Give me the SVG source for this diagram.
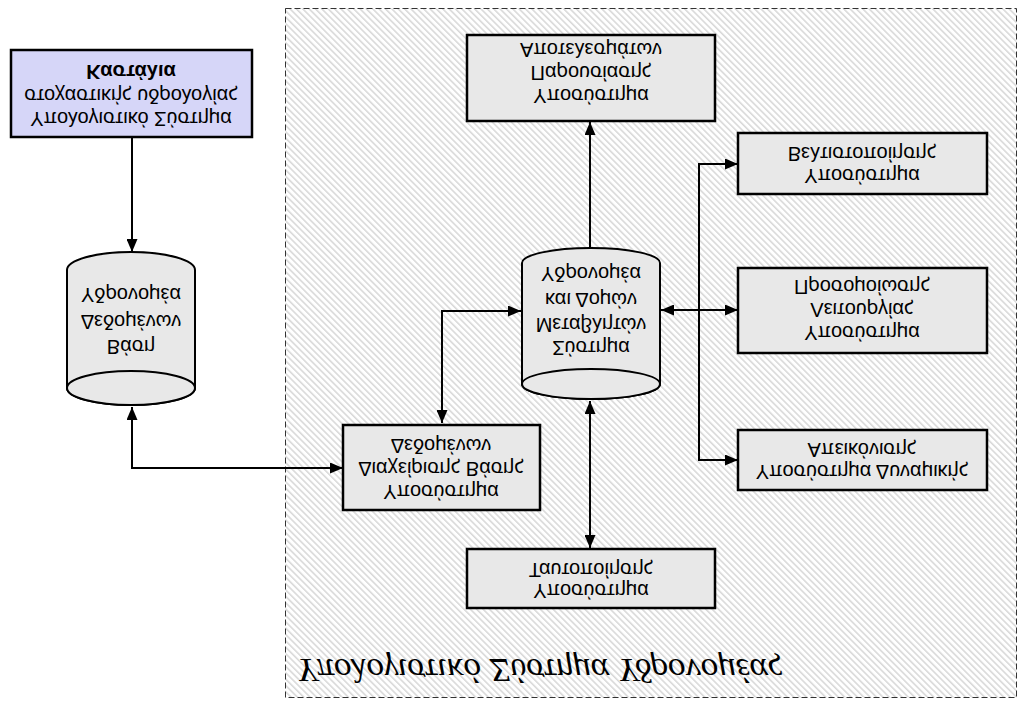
<svg xmlns="http://www.w3.org/2000/svg" width="1023" height="709" viewBox="0 0 1023 709">
<style>
.t{font-family:"Liberation Sans",Arial,sans-serif;font-size:20px;fill:#000;text-anchor:middle;dominant-baseline:central}
.b{font-weight:bold}
.box{fill:#e8e8e8;stroke:#000;stroke-width:2.5}
.cyl{fill:#e8e8e8;stroke:#000;stroke-width:2}
.c{fill:none;stroke:#000;stroke-width:2}
.lbl{font-family:"Liberation Serif","Times New Roman",serif;font-style:italic;font-size:33px;fill:#000;dominant-baseline:central}
</style>
<defs>
<pattern id="hatch" patternUnits="userSpaceOnUse" width="4.5" height="4.5" patternTransform="rotate(-45)">
<rect width="4.5" height="4.5" fill="#ffffff"/>
<line x1="0.8" y1="0" x2="0.8" y2="4.5" stroke="#d4d4d4" stroke-width="1.4"/>
</pattern>
<marker id="ah" markerUnits="userSpaceOnUse" markerWidth="13" markerHeight="11" refX="13" refY="5.5" orient="auto-start-reverse">
<path d="M0,0 L13,5.5 L0,11 Z" fill="#000"/>
</marker>
</defs>
<rect width="1023" height="709" fill="#ffffff"/>
<g id="region">
<rect x="285.5" y="8.5" width="731" height="689" fill="url(#hatch)" stroke="#333" stroke-width="1" stroke-dasharray="6,3"/>
<text class="lbl" textLength="485" lengthAdjust="spacingAndGlyphs" transform="translate(297,670) scale(1,-1)">Υπολογιστικό Σύστημα Υδρονομέας</text>
</g>
<g id="connectors">
<path class="c" d="M132,138 V252" marker-end="url(#ah)"/>
<path class="c" d="M132,407 V468 H343" marker-start="url(#ah)" marker-end="url(#ah)"/>
<path class="c" d="M442,423 V311 H521" marker-start="url(#ah)" marker-end="url(#ah)"/>
<path class="c" d="M590,248 V122" marker-end="url(#ah)"/>
<path class="c" d="M590,401 V548" marker-start="url(#ah)" marker-end="url(#ah)"/>
<path class="c" d="M661,310 H738" marker-start="url(#ah)" marker-end="url(#ah)"/>
<path class="c" d="M738,164 H699 V460 H738" marker-start="url(#ah)" marker-end="url(#ah)"/>
</g>
<g id="kastalia">
<rect x="11" y="50" width="241" height="87" fill="#d6d6f8" stroke="#000" stroke-width="2.5"/>
<text class="t b" transform="translate(131,72) scale(1,-1)">Καστάλια</text>
<text class="t" transform="translate(131,96) scale(1,-1)">στοχαστικής υδρολογίας</text>
<text class="t" transform="translate(131,119) scale(1,-1)">Υπολογιστικό Σύστημα</text>
</g>
<g id="db">
<path class="cyl" d="M67,270 A64,18 0 0 1 195,270 V388 A64,17 0 0 1 67,388 Z"/>
<ellipse class="cyl" cx="131" cy="388" rx="64" ry="17"/>
<text class="t" transform="translate(131,295) scale(1,-1)">Υδρονομέα</text>
<text class="t" transform="translate(131,322) scale(1,-1)">Δεδομένων</text>
<text class="t" transform="translate(131,347) scale(1,-1)">Βάση</text>
</g>
<g id="vars">
<path class="cyl" d="M522,263 A69,15 0 0 1 660,263 V384 A69,15 0 0 1 522,384 Z"/>
<ellipse class="cyl" cx="591" cy="384" rx="69" ry="15"/>
<text class="t" transform="translate(591,274) scale(1,-1)">Υδρονομέα</text>
<text class="t" transform="translate(591,300) scale(1,-1)">και Δομών</text>
<text class="t" transform="translate(591,325) scale(1,-1)">Μεταβλητών</text>
<text class="t" transform="translate(591,348) scale(1,-1)">Σύστημα</text>
</g>
<g id="results">
<rect class="box" x="467" y="35" width="248" height="86"/>
<text class="t" transform="translate(591,50) scale(1,-1)">Αποτελεσμάτων</text>
<text class="t" transform="translate(591,73) scale(1,-1)">Παρουσίασης</text>
<text class="t" transform="translate(591,96) scale(1,-1)">Υποσύστημα</text>
</g>
<g id="optim">
<rect class="box" x="738" y="133" width="249" height="61"/>
<text class="t" transform="translate(862,154) scale(1,-1)">Βελτιστοποίησης</text>
<text class="t" transform="translate(862,176) scale(1,-1)">Υποσύστημα</text>
</g>
<g id="sim">
<rect class="box" x="738" y="268" width="249" height="85"/>
<text class="t" transform="translate(862,287) scale(1,-1)">Προσομοίωσης</text>
<text class="t" transform="translate(862,310) scale(1,-1)">Λειτουργίας</text>
<text class="t" transform="translate(862,333) scale(1,-1)">Υποσύστημα</text>
</g>
<g id="display">
<rect class="box" x="738" y="430" width="249" height="60"/>
<text class="t" transform="translate(862,450) scale(1,-1)">Απεικόνισης</text>
<text class="t" transform="translate(862,472) scale(1,-1)">Υποσύστημα Δυναμικής</text>
</g>
<g id="dbms">
<rect class="box" x="343" y="425" width="197" height="85"/>
<text class="t" transform="translate(441,446) scale(1,-1)">Δεδομένων</text>
<text class="t" transform="translate(441,469) scale(1,-1)">Διαχείρισης Βάσης</text>
<text class="t" transform="translate(441,492) scale(1,-1)">Υποσύστημα</text>
</g>
<g id="ident">
<rect class="box" x="467" y="549" width="248" height="59"/>
<text class="t" transform="translate(591,570) scale(1,-1)">Ταυτοποίησης</text>
<text class="t" transform="translate(591,591) scale(1,-1)">Υποσύστημα</text>
</g>
</svg>
